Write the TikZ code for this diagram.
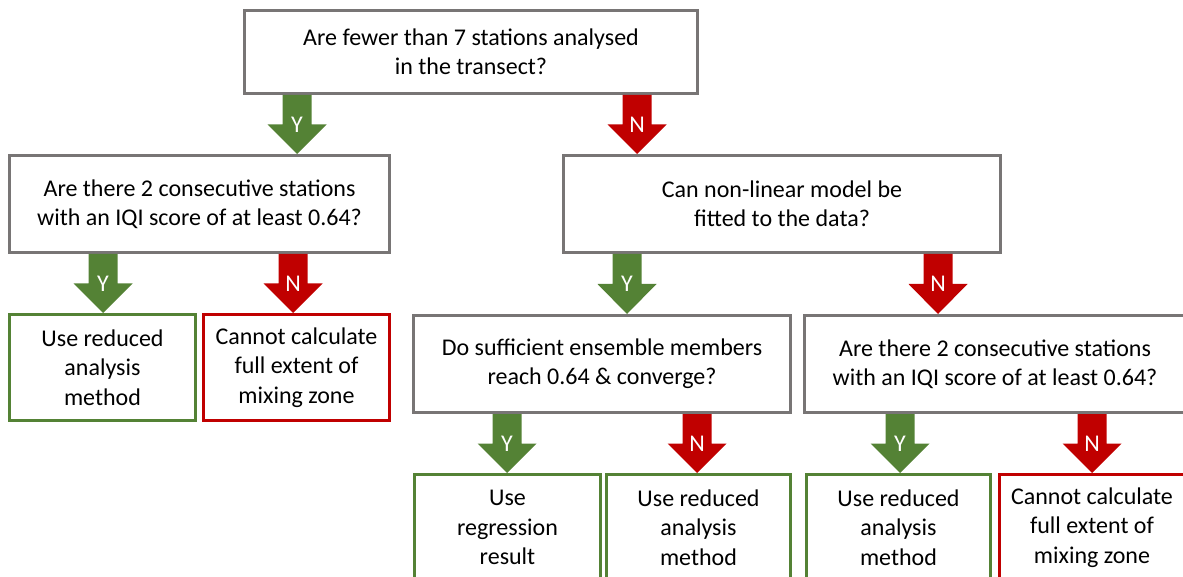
\documentclass[tikz,border=0pt]{standalone}
\usepackage{fontspec}
\setmainfont{Carlito}
\usetikzlibrary{calc}
\definecolor{bgray}{HTML}{787575}
\definecolor{dgreen}{HTML}{548235}
\definecolor{dred}{HTML}{C00000}
\newcommand\blockarrow[6]{% name, colour, x, src, dst, label
  \path let \p1=(#4.south), \p2=(#5.north) in
    [fill=#2] ({#3-14.5},\y1) -- ({#3+14.5},\y1) -- ({#3+14.5},{(\y1+\y2)/2}) -- ({#3+29.5},{(\y1+\y2)/2})
      -- (#3,\y2) -- ({#3-29.5},{(\y1+\y2)/2}) -- ({#3-14.5},{(\y1+\y2)/2}) -- cycle
    (#3,{(\y1+\y2)/2}) node[lbl] (#1) {#6};
}
\tikzset{
  box/.style={draw=bgray, line width=3pt, align=center, inner sep=0pt,
    font=\fontsize{24}{29.3}\selectfont},
  gbox/.style={box, draw=dgreen},
  rbox/.style={box, draw=dred},
  lbl/.style={text=white, inner sep=0pt, font=\fontsize{24}{29}\selectfont},
}
\begin{document}
\begin{tikzpicture}[x=1pt,y=-1pt]
\clip (0,0) rectangle (1183,577);
\node[box, minimum width=453pt, minimum height=83pt] (top) at (471,52) {Are fewer than 7 stations analysed\\in the transect?};
\node[box, minimum width=380pt, minimum height=97pt] (q1) at (199.5,204) {Are there 2 consecutive stations\\with an IQI score of at least 0.64?};
\node[box, minimum width=437pt, minimum height=97pt] (q2) at (782,204) {Can non-linear model be\\fitted to the data?};
\node[gbox, minimum width=186pt, minimum height=106pt] (r1) at (102.5,367.5) {Use reduced\\analysis\\method};
\node[rbox, minimum width=186pt, minimum height=106pt] (r2) at (296.5,367.5) {Cannot calculate\\full extent of\\mixing zone};
\node[box, minimum width=377pt, minimum height=97pt] (q3) at (602,364) {Do sufficient ensemble members\\reach 0.64 \& converge?};
\node[box, minimum width=381pt, minimum height=97pt] (q4) at (995,364) {Are there 2 consecutive stations\\with an IQI score of at least 0.64?};
\node[gbox, minimum width=186pt, minimum height=106pt] (b1) at (507.5,527.5) {Use\\regression\\result};
\node[gbox, minimum width=184pt, minimum height=106pt] (b2) at (698.5,527.5) {Use reduced\\analysis\\method};
\node[gbox, minimum width=184pt, minimum height=106pt] (b3) at (898.5,527.5) {Use reduced\\analysis\\method};
\node[rbox, minimum width=185pt, minimum height=106pt] (b4) at (1092,527.5) {Cannot calculate\\full extent of\\mixing zone};
\blockarrow{a1}{dgreen}{297}{top}{q1}{Y}
\blockarrow{a2}{dred}{637}{top}{q2}{N}
\blockarrow{a3}{dgreen}{103}{q1}{r1}{Y}
\blockarrow{a4}{dred}{293}{q1}{r2}{N}
\blockarrow{a5}{dgreen}{627}{q2}{q3}{Y}
\blockarrow{a6}{dred}{938}{q2}{q4}{N}
\blockarrow{a7}{dgreen}{507}{q3}{b1}{Y}
\blockarrow{a8}{dred}{697}{q3}{b2}{N}
\blockarrow{a9}{dgreen}{900}{q4}{b3}{Y}
\blockarrow{a10}{dred}{1092}{q4}{b4}{N}
\end{tikzpicture}
\end{document}
